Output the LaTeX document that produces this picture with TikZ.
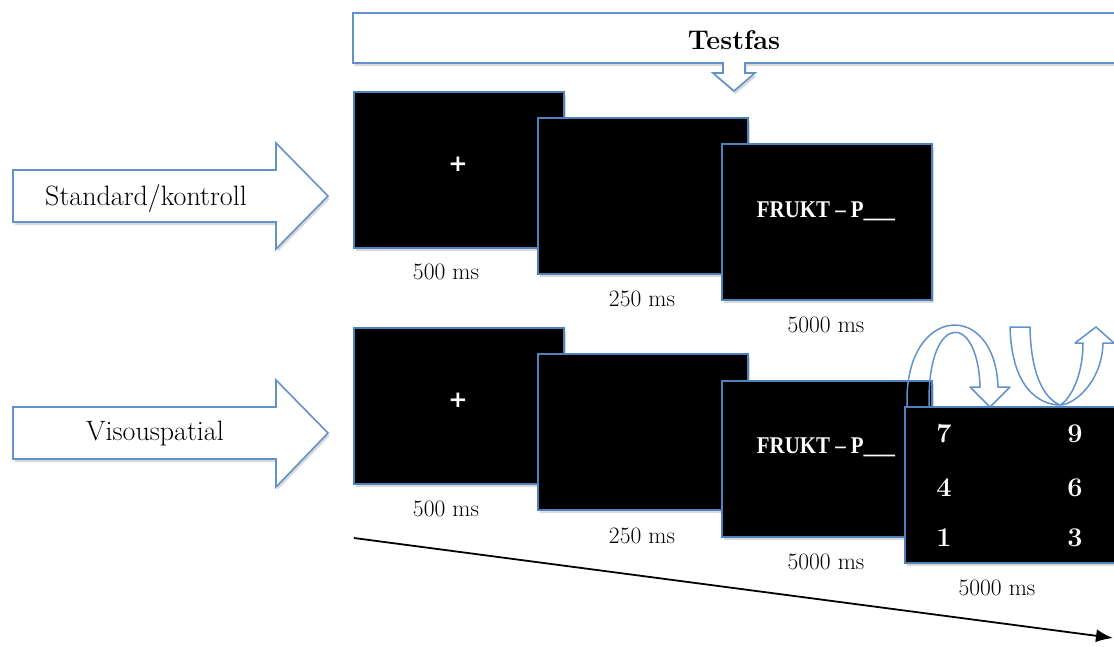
\documentclass[tikz,border=0pt]{standalone}
\usepackage{fontspec}
\newfontfamily\plusfont{DejaVu Sans}
\newfontfamily\wordfont{Liberation Serif}
\usetikzlibrary{arrows.meta,shadows}
\definecolor{boxblue}{RGB}{79,129,189}
\definecolor{arrblue}{RGB}{98,146,204}
\begin{document}
\begin{tikzpicture}[x=1pt,y=-1pt,
  softshadow/.style={drop shadow={shadow xshift=1.5pt, shadow yshift=-3pt, fill=black, opacity=0.15}},
  screen/.style={draw=boxblue, line width=2pt, fill=black, inner sep=0pt, outer sep=0pt,
    minimum width=210pt, minimum height=156pt, anchor=north west, softshadow},
  blockarrow/.style={draw=arrblue, line width=1.6pt, fill=white, line join=miter, softshadow},
  curvearrow/.style={draw=arrblue, line width=1.5pt, line join=round},
  mslabel/.style={font=\fontsize{23.5}{26}\selectfont, inner sep=0pt},
  condlabel/.style={font=\fontsize{28}{32}\selectfont, inner sep=0pt},
  cross/.style={font=\plusfont\fontsize{23}{26}\selectfont\bfseries, text=white, inner sep=0pt},
  word/.style={font=\wordfont\fontsize{24}{27}\selectfont\bfseries, text=white, inner sep=0pt},
  digit/.style={font=\fontsize{27}{30}\selectfont\bfseries, text=white, inner sep=0pt}]
\path[use as bounding box] (0,0) rectangle (1114,646);
\clip (0,0) rectangle (1114,646);

% banner with down callout
\draw[blockarrow] (353,13) -- (1130,13) -- (1130,63) -- (745,63) -- (745,73) -- (755,73)
  -- (734,91) -- (713,73) -- (723,73) -- (723,63) -- (353,63) -- cycle;
\node[font=\fontsize{27}{30}\selectfont\bfseries, inner sep=0pt] (testfas) at (734,40) {Testfas};

% condition arrows
\draw[blockarrow] (13,170) -- (276,170) -- (276,143) -- (328,196) -- (276,249) -- (276,222) -- (13,222) -- cycle;
\node[condlabel] (std) at (146,198) {Standard/kontroll};
\draw[blockarrow] (13,407) -- (276,407) -- (276,380) -- (328,433) -- (276,487) -- (276,459) -- (13,459) -- cycle;
\node[condlabel] (vis) at (155,434) {Visouspatial};

% row 1
\node[screen] (a1) at (354,92) {};
\node[cross] (p1) at (458,164) {+};
\node[screen] (b1) at (538,118) {};
\node[screen] (c1) at (722,144) {};
\node[word] (f1) at (826,211) {\scalebox{0.87}[1]{FRUKT – P\_\_\_}};
\node[mslabel] (l11) at (446,272) {500 ms};
\node[mslabel] (l12) at (642,299) {250 ms};
\node[mslabel] (l13) at (826,325) {5000 ms};

% row 2
\node[screen] (a2) at (354,328) {};
\node[cross] (p2) at (458,400) {+};
\node[screen] (b2) at (538,354) {};
\node[screen] (c2) at (722,381) {};
\node[word] (f2) at (826,447) {\scalebox{0.87}[1]{FRUKT – P\_\_\_}};

% curved arrows
\draw[curvearrow] (907,412) -- (907,400) .. controls (907,305) and (995,300) .. (998,387)
  -- (1010,387) -- (990,407) -- (970,387) -- (980,387)
  .. controls (978,312) and (929,312) .. (929,400) -- (929,412);
\draw[curvearrow] (1010,327) .. controls (1012,398) and (1048,405) .. (1060,405)
  .. controls (1074,405) and (1102,382) .. (1103,343) -- (1114,343) -- (1096,327)
  -- (1075,343) -- (1083,343) .. controls (1083,376) and (1070,400) .. (1060,405)
  .. controls (1050,401) and (1031,385) .. (1030,327) -- cycle;

\node[screen, minimum width=230pt] (d2) at (905,407) {};
\node[digit] (n7) at (944,434) {7};
\node[digit] (n9) at (1075,434) {9};
\node[digit] (n4) at (944,488) {4};
\node[digit] (n6) at (1075,488) {6};
\node[digit] (n1) at (944,538) {1};
\node[digit] (n3) at (1075,538) {3};

\node[mslabel] (l21) at (446,509) {500 ms};
\node[mslabel] (l22) at (642,536) {250 ms};
\node[mslabel] (l23) at (826,562) {5000 ms};
\node[mslabel] (l24) at (997,588) {5000 ms};

% time line
\coordinate (t0) at (354,538);
\coordinate (t1) at (1113,638);
\draw[line width=1.8pt, -{Latex[length=17pt,width=13pt]}] (t0) -- (t1);
\end{tikzpicture}
\end{document}
